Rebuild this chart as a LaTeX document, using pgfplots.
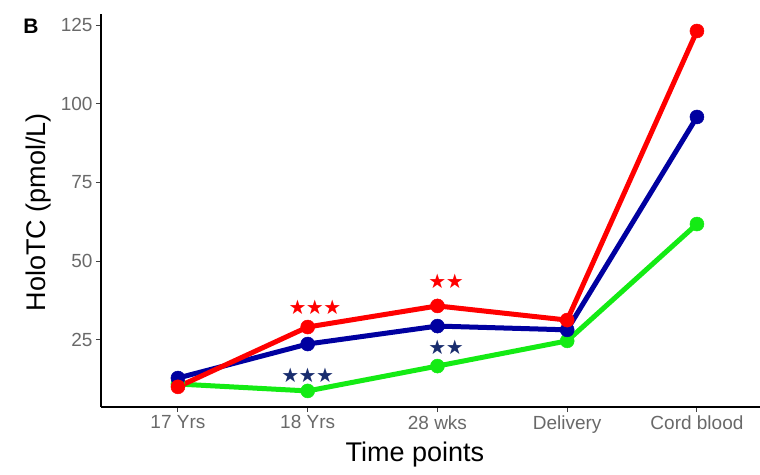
\documentclass[border=0pt]{standalone}
\usepackage{fontspec}
\setmainfont{Liberation Sans}
\newfontfamily\symfont{DejaVu Sans}
\usepackage{pgfplots}
\pgfplotsset{compat=1.18}
\definecolor{hred}{RGB}{255,0,0}
\definecolor{hnavy}{RGB}{0,0,160}
\definecolor{hgreen}{RGB}{20,235,20}
\definecolor{starnavy}{RGB}{25,45,110}
\definecolor{tickgray}{RGB}{105,105,105}

\begin{document}
\begin{tikzpicture}
\begin{axis}[
    name=ax, at={(0,0)}, anchor=south west,
    scale only axis, width=659pt, height=393pt,
    xmin=-0.593, xmax=4.486,
    ymin=3.7, ymax=128.5,
    axis lines=left,
    axis line style={-, line width=1.6pt, black},
    xtick={0,1,2,3,4},
    xticklabels={17 Yrs,18 Yrs,28 wks,Delivery,Cord blood},
    ytick={25,50,75,100,125},
    tick align=outside,
    major tick length=5pt,
    tick style={line width=1pt, black!75},
    ticklabel style={font=\fontsize{19}{19}\selectfont, text=tickgray},
    /pgf/number format/assume math mode=true,
    clip=false,
    every axis plot/.append style={line width=5pt, mark=*, mark size=7pt},
]
% green group
\addplot[color=hgreen, mark options={fill=hgreen, line width=0.5pt}] coordinates {
    (0,11.0) (1,8.8) (2,16.7) (3,24.7) (4,61.8)
};
% blue group
\addplot[color=hnavy, mark options={fill=hnavy, line width=0.5pt}] coordinates {
    (0,12.9) (1,23.7) (2,29.4) (3,28.2) (4,95.8)
};
% red group
\addplot[color=hred, mark options={fill=hred, line width=0.5pt}] coordinates {
    (0,10.1) (1,29.1) (2,35.8) (3,31.3) (4,123.1)
};
% significance stars
\node[text=hred, font=\symfont\fontsize{20}{20}\selectfont] at (axis cs:1.056,35.5) {★\kern-0.5pt★\kern-0.5pt★};
\node[text=hred, font=\symfont\fontsize{20}{20}\selectfont] at (axis cs:2.066,43.7) {★\kern-0.5pt★};
\node[text=starnavy, font=\symfont\fontsize{20}{20}\selectfont] at (axis cs:1.0,13.9) {★\kern-0.5pt★\kern-0.5pt★};
\node[text=starnavy, font=\symfont\fontsize{20}{20}\selectfont] at (axis cs:2.066,22.8) {★\kern-0.5pt★};
\end{axis}
\node[anchor=base, font=\fontsize{27}{27}\selectfont] at (314pt,-54pt) {Time points};
\node[anchor=base, rotate=90, font=\fontsize{27}{27}\selectfont] at (-55pt,195pt) {HoloTC (pmol/L)};
\node[font=\bfseries\fontsize{21}{21}\selectfont] at (-70pt,381pt) {B};
\pgfresetboundingbox
\path[use as bounding box] (-101pt,-67pt) rectangle (659pt,407pt);
\end{tikzpicture}
\end{document}
